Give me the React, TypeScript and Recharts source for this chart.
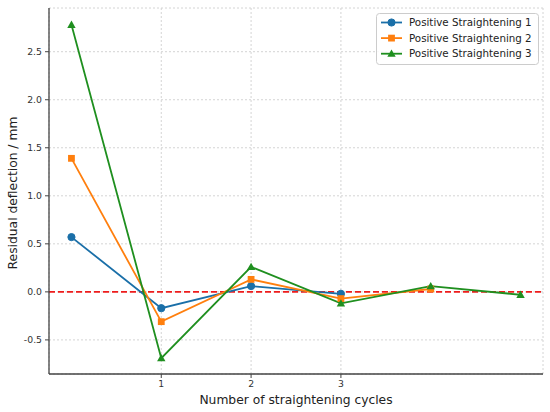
import React from 'react';
import { LineChart, Line, XAxis, YAxis, CartesianGrid, ReferenceLine } from 'recharts';

const cycles = [0, 1, 2, 3, 4, 5];
const straightening1 = [0.57, -0.17, 0.06, -0.02, null, null];
const straightening2 = [1.39, -0.31, 0.13, -0.07, 0.03, null];
const straightening3 = [2.78, -0.69, 0.26, -0.12, 0.06, -0.03];
const xTicks = [1, 2, 3];
const yTicks = [-0.5, 0, 0.5, 1.0, 1.5, 2.0, 2.5];
const seriesNames = ['Positive Straightening 1', 'Positive Straightening 2', 'Positive Straightening 3'];

const C1 = '#1a6fa8';
const C2 = '#ff7f0e';
const C3 = '#1f8f1f';

const data = cycles.map((c, i) => ({
  cycle: c,
  s1: straightening1[i],
  s2: straightening2[i],
  s3: straightening3[i],
}));

const Marker = ({ kind, cx, cy, color }: { kind: string; cx: number; cy: number; color: string }) => {
  if (kind === 'circle') return <circle cx={cx} cy={cy} r={3.6} fill={color} stroke={color} />;
  if (kind === 'square') return <rect x={cx - 3.4} y={cy - 3.4} width={6.8} height={6.8} fill={color} />;
  const s = 4.2;
  return <polygon points={`${cx},${cy - s} ${cx + s},${cy + s * 0.75} ${cx - s},${cy + s * 0.75}`} fill={color} />;
};

const makeDot = (kind: string, color: string) => (props: any) => {
  const { cx, cy, index, value } = props;
  if (cx == null || cy == null || value == null || Number.isNaN(cy)) return <g key={`d-${kind}-${index}`} />;
  return (
    <g key={`d-${kind}-${index}`}>
      <Marker kind={kind} cx={cx} cy={cy} color={color} />
    </g>
  );
};

const legendItems = [
  { name: seriesNames[0], color: C1, kind: 'circle' },
  { name: seriesNames[1], color: C2, kind: 'square' },
  { name: seriesNames[2], color: C3, kind: 'triangle' },
];

const LegendBox = () => (
  <svg width={163} height={52} style={{ display: 'block', position: 'absolute', left: 376, top: 13 }}>
    <rect x={0.5} y={0.5} width={162} height={51} rx={3} fill="rgba(255,255,255,0.85)" stroke="#cccccc" />
    {legendItems.map((it, i) => {
      const y = 9.5 + i * 15.6;
      return (
        <g key={it.name}>
          <line x1={5} x2={26} y1={y} y2={y} stroke={it.color} strokeWidth={1.8} />
          <Marker kind={it.kind} cx={15.5} cy={y} color={it.color} />
          <text x={33} y={y + 3.6} fontSize={10.3} fontFamily="DejaVu Sans" fill="#222">
            {it.name}
          </text>
        </g>
      );
    })}
  </svg>
);

export default function App() {
  return (
    <div style={{ position: 'absolute', left: 0, top: 0, width: 550, height: 412, background: '#fff', overflow: 'hidden' }}>
      <LineChart width={550} height={412} data={data} margin={{ top: 8, right: 7, bottom: 0, left: 0 }}>
        <CartesianGrid stroke="#d4d4d4" strokeDasharray="2 2" />
        <XAxis
          dataKey="cycle"
          type="number"
          domain={[-0.25, 5.25]}
          ticks={xTicks}
          height={38}
          tickSize={4}
          tickMargin={2}
          stroke="#444"
          tick={{ fontSize: 9.3, fill: '#333', fontFamily: 'DejaVu Sans' }}
          axisLine={{ stroke: '#444', strokeWidth: 1.3 }}
          label={{ value: 'Number of straightening cycles', position: 'insideBottom', offset: 8, style: { fontSize: 12.3, fill: '#222', fontFamily: 'DejaVu Sans' } }}
        />
        <XAxis xAxisId="top" orientation="top" type="number" domain={[-0.25, 5.25]} height={0} tick={false} tickLine={false} axisLine={{ stroke: '#444', strokeWidth: 1.3 }} />
        <YAxis
          type="number"
          domain={[-0.855, 2.955]}
          ticks={yTicks}
          width={49}
          tickSize={4}
          tickMargin={3}
          stroke="#444"
          tickFormatter={(v: number) => v.toFixed(1)}
          tick={{ fontSize: 9.3, fill: '#333', fontFamily: 'DejaVu Sans' }}
          axisLine={{ stroke: '#444', strokeWidth: 1.3 }}
          label={{ value: 'Residual deflection / mm', angle: -90, position: 'center', dx: -11.5, dy: 2, style: { fontSize: 12.3, fill: '#222', fontFamily: 'DejaVu Sans', textAnchor: 'middle' } }}
        />
        <YAxis yAxisId="right" orientation="right" width={0} tick={false} tickLine={false} axisLine={{ stroke: '#444', strokeWidth: 1.3 }} />
        <ReferenceLine y={0} stroke="#ee1c1c" strokeWidth={1.6} strokeDasharray="6 3" />
        <Line dataKey="s1" name={seriesNames[0]} stroke={C1} strokeWidth={1.8} dot={makeDot('circle', C1)} activeDot={false} isAnimationActive={false} connectNulls={false} />
        <Line dataKey="s2" name={seriesNames[1]} stroke={C2} strokeWidth={1.8} dot={makeDot('square', C2)} activeDot={false} isAnimationActive={false} connectNulls={false} />
        <Line dataKey="s3" name={seriesNames[2]} stroke={C3} strokeWidth={1.8} dot={makeDot('triangle', C3)} activeDot={false} isAnimationActive={false} connectNulls={false} />
      </LineChart>
      <LegendBox />
    </div>
  );
}
